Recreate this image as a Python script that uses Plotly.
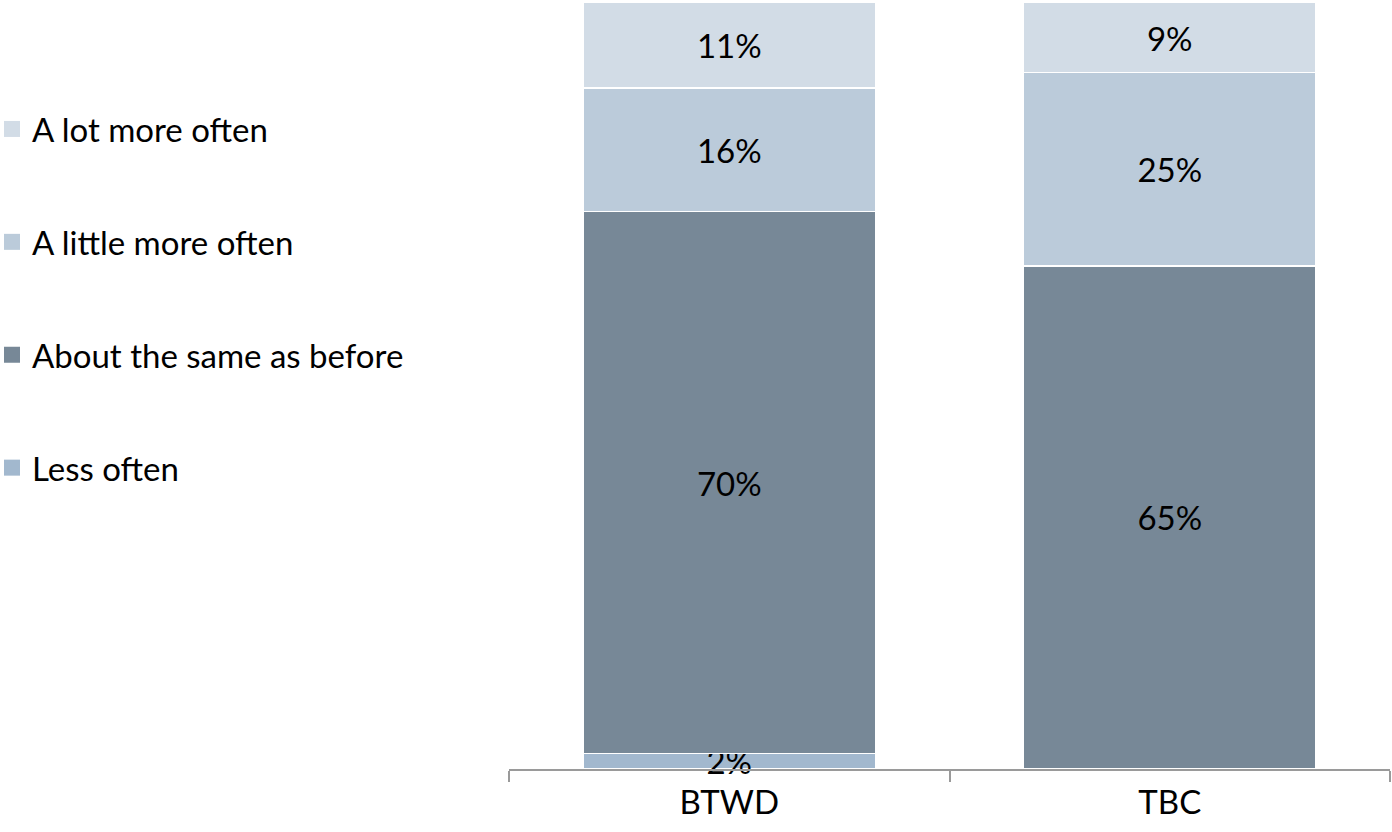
import plotly.graph_objects as go

categories = ["BTWD", "TBC"]
series_names = ["Less often", "About the same as before", "A little more often", "A lot more often"]
less_often = [2, 0]
about_same = [70, 65]
little_more = [16, 25]
lot_more = [11, 9]
colors = ["#A2B8CE", "#778897", "#BBCBDA", "#D2DCE6"]
legend_rank = [4, 3, 2, 1]

values = [less_often, about_same, little_more, lot_more]
FONT = "Lato"

fig = go.Figure()
for name, vals, col in zip(series_names, values, colors):
    fig.add_trace(go.Bar(
        x=categories, y=vals, name=name, showlegend=False,
        marker=dict(color=col, line=dict(color="white", width=1.5)),
        text=[f"{v}%" if v else "" for v in vals],
        textposition="inside", insidetextanchor="middle",
        textfont=dict(family=FONT, size=33, color="black"),
        constraintext="none", cliponaxis=False,
    ))
# legend entries (square swatches)
for name, col, rk in zip(series_names, colors, legend_rank):
    fig.add_trace(go.Scatter(
        x=[None], y=[None], mode="markers", name=name, legendgroup=name,
        legendrank=rk, marker=dict(symbol="square", size=16, color=col),
    ))

PLOT_L, PLOT_R = 509, 2
plot_w = 1392 - PLOT_L - PLOT_R

fig.update_layout(
    barmode="stack",
    width=1392, height=832,
    margin=dict(l=PLOT_L, r=PLOT_R, t=0, b=63, autoexpand=False),
    paper_bgcolor="white", plot_bgcolor="white",
    bargap=0.335,
    uniformtext=dict(minsize=33, mode="show"),
    font=dict(family=FONT, size=33, color="black"),
    legend=dict(
        traceorder="grouped", tracegroupgap=67, itemsizing="trace",
        x=(-8 - PLOT_L) / plot_w, xanchor="left", y=(769 - 101) / 769, yanchor="top",
        font=dict(family=FONT, size=33, color="black"),
        bgcolor="rgba(0,0,0,0)",
    ),
    xaxis=dict(
        showline=True, linecolor="#9a9a9a", linewidth=1.5,
        ticks="outside", tickson="boundaries", ticklen=11, tickcolor="#9a9a9a", tickwidth=1.5,
        ticklabelstandoff=4,
        tickfont=dict(family=FONT, size=33, color="black"),
        showgrid=False,
    ),
    yaxis=dict(range=[0, 99.35], visible=False, showgrid=False),
)

fig.write_html("out.html", config={"displayModeBar": False},
               post_script="document.body.style.margin='0';")
